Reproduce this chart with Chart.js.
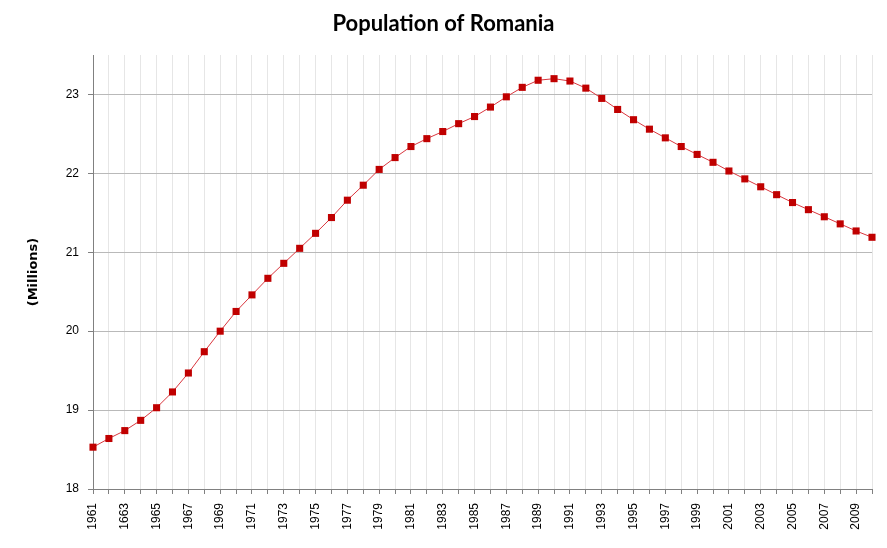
<!DOCTYPE html>
<html>
<head>
<meta charset="utf-8">
<title>Population of Romania</title>
<script src="https://cdn.jsdelivr.net/npm/chart.js@4.4.1/dist/chart.umd.min.js"></script>
<style>
    body { margin: 0; background: #fff; }
    #wrap { width: 887px; height: 548px; position: relative; }
</style>
</head>
<body>
<div id="wrap"><canvas id="popChart"></canvas></div>
<script>
// Categories: one per year
const years = [
    '1961', '1962', '1963', '1964', '1965', '1966', '1967', '1968', '1969', '1970',
    '1971', '1972', '1973', '1974', '1975', '1976', '1977', '1978', '1979', '1980',
    '1981', '1982', '1983', '1984', '1985', '1986', '1987', '1988', '1989', '1990',
    '1991', '1992', '1993', '1994', '1995', '1996', '1997', '1998', '1999', '2000',
    '2001', '2002', '2003', '2004', '2005', '2006', '2007', '2008', '2009', '2010'
];

// Population in millions
const population = [
    18.53, 18.64, 18.74, 18.87, 19.03, 19.23, 19.47, 19.74, 20.00, 20.25,
    20.46, 20.67, 20.86, 21.05, 21.24, 21.44, 21.66, 21.85, 22.05, 22.20,
    22.34, 22.44, 22.53, 22.63, 22.72, 22.84, 22.97, 23.09, 23.18, 23.20,
    23.17, 23.08, 22.95, 22.81, 22.68, 22.56, 22.45, 22.34, 22.24, 22.14,
    22.03, 21.93, 21.83, 21.73, 21.63, 21.54, 21.45, 21.36, 21.27, 21.19
];

// Labels shown under every other year (as printed in the original)
const tickLabels = [
    '1961', '1663', '1965', '1967', '1969', '1971', '1973', '1975', '1977', '1979',
    '1981', '1983', '1985', '1987', '1989', '1991', '1993', '1995', '1997', '1999',
    '2001', '2003', '2005', '2007', '2009'
];

const yMin = 18;
const yMax = 23.5;

const ctx = document.getElementById('popChart').getContext('2d');
new Chart(ctx, {
    type: 'line',
    data: {
        labels: years,
        datasets: [{
            label: 'Population',
            data: population,
            borderColor: '#d9363e',
            borderWidth: 1,
            backgroundColor: '#c00000',
            pointStyle: 'rect',
            pointRadius: 5,
            pointBorderWidth: 0,
            pointBackgroundColor: '#c00000',
            tension: 0,
            fill: false
        }]
    },
    options: {
        responsive: true,
        maintainAspectRatio: false,
        animation: false,
        layout: {
            padding: 0
        },
        plugins: {
            legend: { display: false },
            tooltip: { enabled: false },
            title: {
                display: true,
                text: 'Population of Romania',
                color: '#000',
                font: { family: 'Lato', size: 22, weight: 'bold' },
                padding: { top: 11, bottom: 17.6 }
            }
        },
        scales: {
            x: {
                // fixed band under the plot; keep 15px free on the right
                afterFit: scale => {
                    scale.height = 59;
                    scale.paddingLeft = 0;
                    scale.paddingRight = 15;
                },
                grid: {
                    color: '#e6e6e6',
                    tickColor: '#808080',
                    tickLength: 5
                },
                border: { color: '#808080' },
                ticks: {
                    autoSkip: false,
                    minRotation: 90,
                    maxRotation: 90,
                    padding: 9,
                    color: '#000',
                    font: { family: 'Liberation Sans', size: 12 },
                    callback: (value, index) => index % 2 === 0 ? tickLabels[index / 2] : ''
                }
            },
            y: {
                min: yMin,
                max: yMax,
                afterFit: scale => { scale.width = 93; },
                grid: {
                    color: '#b9b9b9',
                    tickColor: '#808080',
                    tickLength: 5
                },
                border: { color: '#808080' },
                ticks: {
                    stepSize: 1,
                    includeBounds: false,
                    padding: 9,
                    color: '#000',
                    font: { family: 'Liberation Sans', size: 12 }
                },
                title: {
                    display: true,
                    text: '(Millions)',
                    color: '#000',
                    font: { family: 'DejaVu Sans', size: 13, weight: 'bold' },
                    padding: { top: 26, bottom: 0 }
                }
            }
        }
    }
});
</script>
</body>
</html>
